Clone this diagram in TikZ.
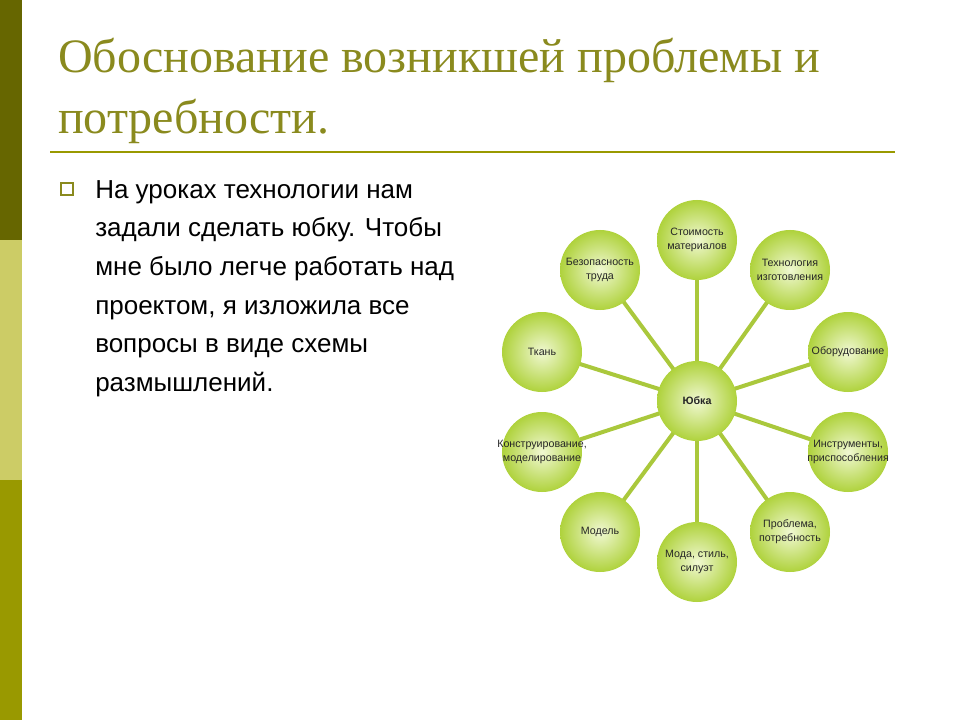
\documentclass[tikz,border=0pt]{standalone}
\usepackage{fontspec}
\setmainfont{Liberation Serif}
\newfontfamily\arial{Liberation Sans}
\definecolor{olv}{RGB}{138,138,30}
\definecolor{bardark}{RGB}{102,102,0}
\definecolor{barlight}{RGB}{204,204,102}
\definecolor{barmid}{RGB}{153,153,0}
\definecolor{lnk}{RGB}{170,200,60}
\definecolor{cin}{RGB}{240,248,210}
\definecolor{cout}{RGB}{175,210,60}
\tikzset{
 bub/.style={circle,minimum size=60pt,inner sep=0pt,inner color=cin,outer color=cout},
 btxt/.style={align=center,inner sep=0pt,font=\arial\fontsize{8}{10.5}\selectfont,text=black!85},
 lk/.style={draw=lnk,line width=3pt}
}
\begin{document}
\begin{tikzpicture}[x=0.75pt,y=-0.75pt]
\useasboundingbox (0,0) rectangle (960,720);
\fill[white] (0,0) rectangle (960,720);
\fill[bardark] (0,0) rectangle (22,240);
\fill[barlight] (0,240) rectangle (22,480);
\fill[barmid] (0,480) rectangle (22,720);
\node[anchor=west,text=olv,font=\fontsize{36}{46}\selectfont,align=left,inner sep=0pt] (title) at (58,91) {Обоснование возникшей проблемы и\\потребности.};
\draw[barmid,line width=1.2pt] (50,152) -- (895,152);
\node[draw=olv,line width=1.2pt,minimum size=9pt,inner sep=0pt] (bl) at (67,189) {};
\node[anchor=north west,font=\arial\fontsize{19.5}{29}\selectfont,align=left,inner sep=0pt] (body) at (95,180) {На уроках технологии нам\\задали сделать юбку. Чтобы\\мне было легче работать над\\проектом, я изложила все\\вопросы в виде схемы\\размышлений.};
\coordinate (c) at (697,401);
\foreach \n/\x/\y in {a/697/240,b/790/270,d/848/352,e/848/452,f/790/532,g/697/562,h/600/532,i/542/452,j/542/352,k/600/270}
  \draw[lk] (c) -- (\x,\y);
\foreach \n/\x/\y/\t in {center/697/401/{\bfseries Юбка},a/697/240/{Стоимость\\материалов},b/790/270/{Технология\\изготовления},d/848/352/{Оборудование},e/848/452/{Инструменты,\\приспособления},f/790/532/{Проблема,\\потребность},g/697/562/{Мода, стиль,\\силуэт},h/600/532/{Модель},i/542/452/{Конструирование,\\моделирование},j/542/352/{Ткань},k/600/270/{Безопасность\\труда}}{
  \node[bub] (\n) at (\x,\y) {};
  \node[btxt] (\n t) at (\n) {\t};
}
\end{tikzpicture}
\end{document}
